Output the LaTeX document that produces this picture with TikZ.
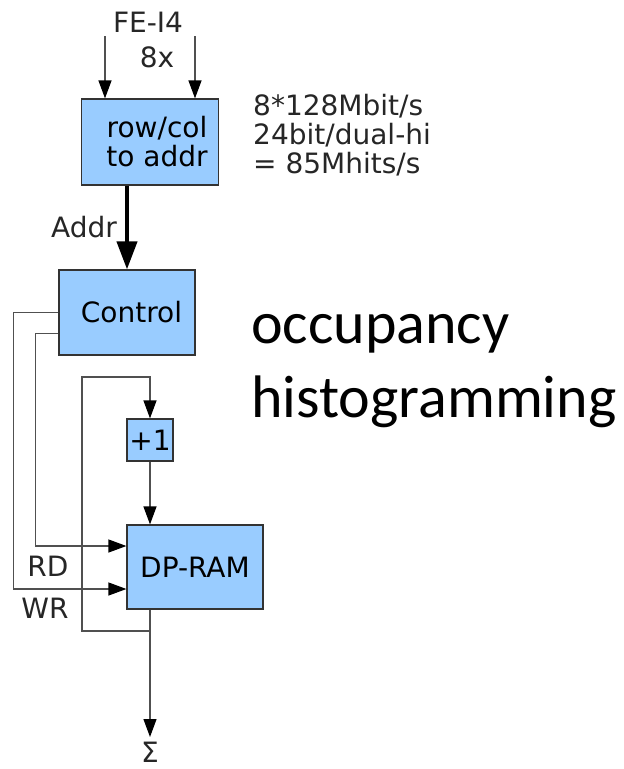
\documentclass[tikz,border=0pt]{standalone}
\usepackage{fontspec}
\setmainfont{DejaVu Sans}
\newfontfamily\titlefont{Carlito}
\usetikzlibrary{arrows.meta,positioning,calc}
\definecolor{boxfill}{HTML}{99CCFF}
\definecolor{edge}{HTML}{333333}
\definecolor{wire}{HTML}{505050}

\begin{document}
\begin{tikzpicture}[
  x=1pt,y=-1pt,
  font=\fontsize{28}{29}\selectfont,
  blk/.style={draw=edge,fill=boxfill,line width=1.2pt,inner sep=0pt},
  lbl/.style={inner sep=0pt,text=black!85},
  arr/.style={-{Triangle[length=18pt,width=13pt,color=black]},line width=1.2pt,draw=wire},
  fat/.style={-{Triangle[length=28pt,width=20pt]},line width=4pt,draw=black}]

\useasboundingbox (0,0) rectangle (624,769);

\node[blk,minimum width=137pt,minimum height=86pt,align=center] (conv) at (150,142) {\hspace*{14pt}row/col\\\hspace*{14pt}to addr};
\node[blk,minimum width=136pt,minimum height=85pt] (ctrl) at (127,312.5) {\hspace*{9pt}Control};
\node[blk,minimum width=46pt,minimum height=42pt] (plus) at (150,440) {+1};
\node[blk,minimum width=136pt,minimum height=84pt] (ram) at (195,567) {DP-RAM};

\node[lbl] (fe) at (148,22) {FE-I4};
\node[lbl] (mult) at (157,57) {8x};
\node[lbl,left=10pt of {$(conv.south -| ctrl)!0.5!(ctrl.north)$}] (addr) {Addr};
\node[lbl] (rd) at (48,566) {RD};
\node[lbl] (wr) at (45,608) {WR};
\node[lbl,anchor=north] (sum) at (150,742) {Σ};

\node[lbl,align=left,anchor=north west] (rate) at (253,94)
  {8*128Mbit/s\\24bit/dual-hi\\= 85Mhits/s};
\node[lbl,align=left,anchor=base west,text=black,
      font=\titlefont\fontsize{60}{74}\selectfont] (title) at (251,417)
  {occupancy\\histogramming};

\coordinate (inl) at (105,36);
\coordinate (inr) at (195,36);
\coordinate (tap) at (150,631);
\coordinate (out) at (150,737);

% inputs from the front-ends
\draw[arr] (inl) -- (inl |- conv.north);
\draw[arr] (inr) -- (inr |- conv.north);
\draw[fat] (conv.south -| ctrl) -- (ctrl.north);

% read / write strobes
\draw[arr] ([yshift=-21pt]ctrl.west) -- ++(-23,0) |- ([yshift=21pt]ram.west);
\draw[arr] (ctrl.west) -- ++(-45,0) |- ([yshift=-22pt]ram.west);

% increment loop
\draw[arr] (tap) -| (82,377) -| (plus.north);
\draw[arr] (plus) -- (plus |- ram.north);
\draw[arr] (plus |- ram.south) -- (out);
\end{tikzpicture}
\end{document}
